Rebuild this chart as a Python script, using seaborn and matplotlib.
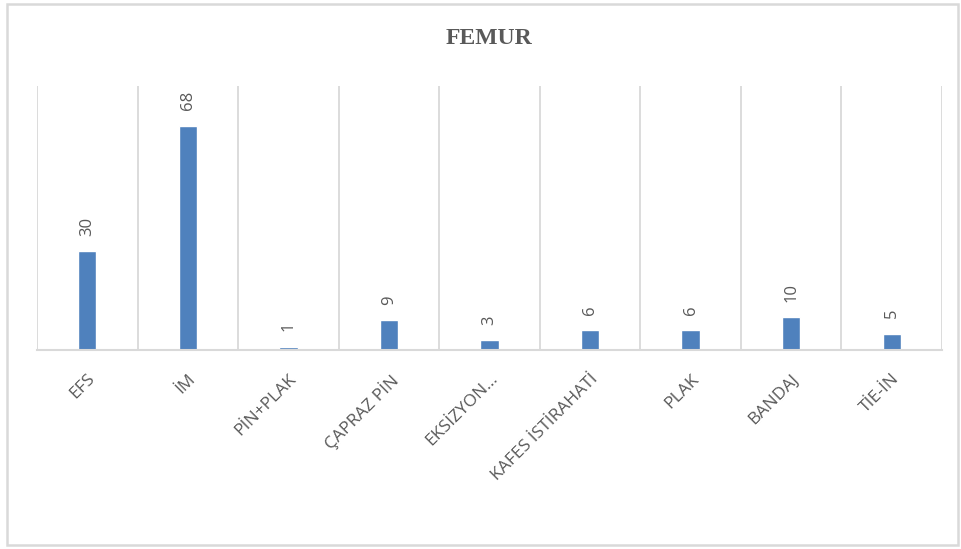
import matplotlib
matplotlib.use("Agg")
import matplotlib.pyplot as plt
from matplotlib.patches import Rectangle
import seaborn as sns

# Treatment methods for femur fractures and their case counts
categories = ["EFS", "İM", "PİN+PLAK", "ÇAPRAZ PİN", "EKSİZYON…",
              "KAFES İSTİRAHATİ", "PLAK", "BANDAJ", "TİE-İN"]
counts = [30, 68, 1, 9, 3, 6, 6, 10, 5]
title = "FEMUR"

sns.set_theme(style="white")
plt.rcParams["font.family"] = ["Open Sans", "DejaVu Sans"]

bar_color = "#4F81BD"
grid_color = "#D9D9D9"
text_color = "#595959"

fig = plt.figure(figsize=(9.62, 5.49), dpi=100)
ax = fig.add_axes([37 / 962, 1 - 350 / 549, 905 / 962, 264 / 549])

sns.barplot(x=categories, y=counts, color=bar_color, width=0.183,
            saturation=1, ax=ax)

ax.set_xlim(-0.5, len(categories) - 0.5)
ax.set_ylim(0, 80)

# vertical gridlines on category boundaries
ax.set_xticks([i - 0.5 for i in range(len(categories) + 1)], minor=True)
ax.grid(True, which="minor", axis="x", color=grid_color, linewidth=1.3)
ax.grid(False, which="major")
ax.tick_params(axis="x", which="both", length=0, pad=15)
ax.set_yticks([])

for side in ("left", "right", "top"):
    ax.spines[side].set_visible(False)
ax.spines["bottom"].set_color(grid_color)
ax.spines["bottom"].set_linewidth(1.5)

ax.set_xlabel("")
ax.set_ylabel("")
ax.set_xticks(range(len(categories)))
ax.set_xticklabels(categories, rotation=45, ha="right", va="top",
                   rotation_mode="anchor", fontsize=12.5, color=text_color)

for container in ax.containers:
    ax.bar_label(container, labels=[str(v) for v in counts], rotation=90,
                 padding=11, fontsize=12, color=text_color)

fig.text(489 / 962, 1 - 39 / 549, title, ha="center", va="center",
         fontsize=17, fontweight="bold", color=text_color,
         family="Liberation Serif")

# outer chart frame
fig.patches.append(Rectangle((7 / 962, 4 / 549), 951 / 962, 541 / 549,
                             transform=fig.transFigure, fill=False,
                             edgecolor=grid_color, linewidth=1.8))

fig.savefig("out.png", dpi=100, facecolor="white")
